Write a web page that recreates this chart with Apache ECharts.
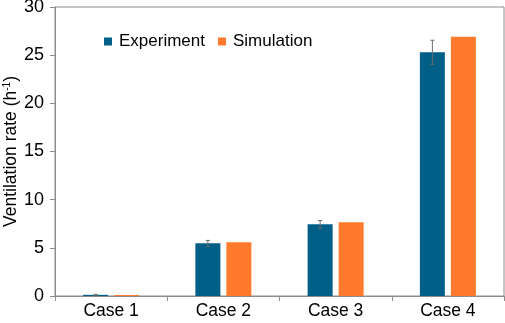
<!DOCTYPE html>
<html>
<head>
<meta charset="utf-8">
<script src="https://cdn.jsdelivr.net/npm/echarts@6/dist/echarts.min.js"></script>
<style>
  html, body { margin: 0; padding: 0; background: #fff; }
  #chart { width: 505px; height: 323px; }
</style>
</head>
<body>
<div id="chart"></div>
<script>
// values
const cases = ['Case 1', 'Case 2', 'Case 3', 'Case 4']
const experiment = [0.12, 5.47, 7.44, 25.3]
const experimentErr = [0.05, 0.3, 0.4, 1.25]
const simulation = [0.1, 5.57, 7.65, 26.9]
const yTicks = [0, 5, 10, 15, 20, 25, 30]

const blue = '#005F87'
const orange = '#FF7A2C'
const barW = 25
const gap = 6
const font = 'Liberation Sans, Arial, sans-serif'

let chart = echarts.init(document.getElementById('chart'))

let errData = experiment.map((v, i) => [i, v, experimentErr[i]])

let option = {
  animation: false,
  textStyle: { fontFamily: font },
  grid: {
    left: 55, right: 1, top: 7, bottom: 27,
    containLabel: false, outerBoundsMode: 'none',
    show: true, borderColor: '#8c8c8c', borderWidth: 1
  },
  legend: {
    left: 99, top: 28,
    icon: 'rect', itemWidth: 8, itemHeight: 8, itemGap: 13,
    textStyle: { fontSize: 17, color: '#000', padding: [0, 0, 0, 2] },
    data: ['Experiment', 'Simulation']
  },
  xAxis: {
    type: 'category',
    data: cases,
    axisLine: { lineStyle: { color: '#8c8c8c' } },
    axisTick: { show: true, length: 5, lineStyle: { color: '#8c8c8c' } },
    axisLabel: { fontSize: 17.5, color: '#000', margin: 6 }
  },
  yAxis: {
    type: 'value',
    min: yTicks[0], max: yTicks[yTicks.length - 1], interval: 5,
    name: '{a|Ventilation rate (h}{s|-1}{a|)}',
    nameLocation: 'middle', nameGap: 35, nameMoveOverlap: false,
    nameTextStyle: {
      rich: {
        a: { fontSize: 17.5, color: '#000', fontFamily: font },
        s: { fontSize: 10, color: '#000', verticalAlign: 'top', padding: [0, 0, 8, 0], fontFamily: font }
      }
    },
    axisLine: { show: true, lineStyle: { color: '#8c8c8c' } },
    axisTick: { show: true, length: 5, lineStyle: { color: '#8c8c8c' } },
    splitLine: { show: false },
    axisLabel: { fontSize: 18, color: '#000', margin: 11 }
  },
  series: [
    {
      name: 'Experiment', type: 'bar', data: experiment,
      barWidth: barW, barGap: (gap / barW * 100) + '%',
      itemStyle: { color: blue }
    },
    {
      name: 'Simulation', type: 'bar', data: simulation,
      barWidth: barW,
      itemStyle: { color: orange }
    },
    {
      type: 'custom',
      data: errData,
      z: 10,
      renderItem: function (params, api) {
        let i = api.value(0)
        let v = api.value(1)
        let e = api.value(2)
        let hi = api.coord([i, v + e])
        let lo = api.coord([i, v - e])
        let x = hi[0] - (barW + gap) / 2
        let cap = 2
        let style = { stroke: '#6b6b6b', lineWidth: 1 }
        return {
          type: 'group',
          children: [
            { type: 'line', shape: { x1: x, y1: hi[1], x2: x, y2: lo[1] }, style: style },
            { type: 'line', shape: { x1: x - cap, y1: hi[1], x2: x + cap, y2: hi[1] }, style: style },
            { type: 'line', shape: { x1: x - cap, y1: lo[1], x2: x + cap, y2: lo[1] }, style: style }
          ]
        }
      }
    }
  ]
}

chart.setOption(option)
</script>
</body>
</html>
